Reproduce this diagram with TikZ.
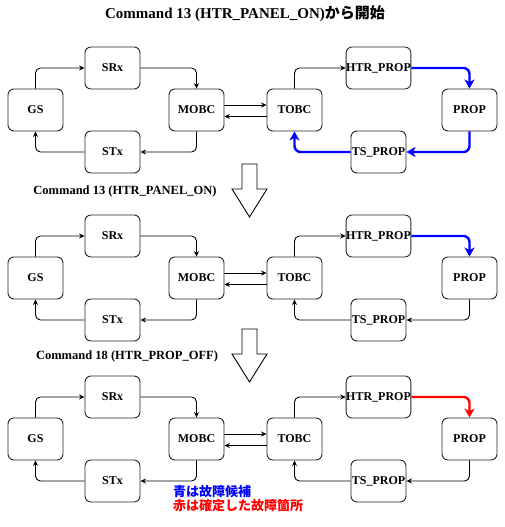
\documentclass[tikz,border=0pt]{standalone}
\usepackage{fontspec}
\setmainfont{Liberation Serif}
\newfontfamily\jpfont{Noto Sans CJK JP}
\usetikzlibrary{arrows.meta}
\tikzset{
  box/.style={draw=black!85, line width=0.9pt, rounded corners=6pt, minimum width=55pt, minimum height=42pt, inner sep=0pt, font=\fontsize{12}{14}\selectfont\bfseries},
  conn/.style={draw=black, line width=0.9pt, rounded corners=5pt, -{Stealth[length=5.5pt,width=5pt]}},
  hot/.style={line width=2.4pt, rounded corners=6pt, -{Stealth[length=9pt,width=10pt,inset=2.5pt]}},
  bluepath/.style={conn, hot, draw=blue},
  redpath/.style={conn, hot, draw=red},
  cmdlabel/.style={font=\fontsize{12.5}{14}\selectfont\bfseries, inner sep=0pt},
  bigarrow/.style={draw=black, line width=0.9pt, fill=white},
}
\newcommand\flowdiag[5]{%
  \begin{scope}[yshift=-#1pt]
  \node[box] (GS#2) at (35.5,110) {GS};
  \node[box] (SRx#2) at (112.5,68) {SRx};
  \node[box] (MOBC#2) at (196.5,110) {MOBC};
  \node[box] (STx#2) at (112.5,152) {STx};
  \node[box] (TOBC#2) at (294.5,110) {TOBC};
  \node[box, minimum width=63pt] (HTR#2) at (378.5,68) {HTR\_PROP};
  \node[box] (PROP#2) at (469.5,110) {PROP};
  \node[box] (TS#2) at (378.5,152) {TS\_PROP};
  \draw[conn] (GS#2.north) |- (SRx#2.west);
  \draw[conn] (SRx#2.east) -| (MOBC#2.north);
  \draw[conn] (MOBC#2.south) |- (STx#2.east);
  \draw[conn] (STx#2.west) -| (GS#2.south);
  \draw[conn] ([yshift=5pt]MOBC#2.east) -- ([yshift=5pt]TOBC#2.west);
  \draw[conn] ([yshift=-6.5pt]TOBC#2.west) -- ([yshift=-6.5pt]MOBC#2.east);
  \draw[conn] (TOBC#2.north) |- (HTR#2.west);
  \draw[#3] (HTR#2.east) -| (PROP#2.north);
  \draw[#4] (PROP#2.south) |- (TS#2.east);
  \draw[#5] (TS#2.west) -| (TOBC#2.south);
  \end{scope}}
\begin{document}
\begin{tikzpicture}[x=1pt,y=-1pt]
\useasboundingbox (0,0) rectangle (505,527);
\node[font=\fontsize{15}{17}\selectfont\bfseries, inner sep=0pt] (title) at (245,14) {Command 13 (HTR\_PANEL\_ON){\jpfont から開始}};
\flowdiag{0}{a}{bluepath}{bluepath}{bluepath}
\flowdiag{168}{b}{bluepath}{conn}{conn}
\flowdiag{329}{c}{redpath}{conn}{conn}
\node[cmdlabel] (cmd1) at (125,191) {Command 13 (HTR\_PANEL\_ON)};
\node[cmdlabel] (cmd2) at (127,356) {Command 18 (HTR\_PROP\_OFF)};
\draw[bigarrow] (242,164) -- (257,164) -- (257,189) -- (267,189) -- (249.5,217) -- (232,189) -- (242,189) -- cycle;
\draw[bigarrow] (242,329) -- (257,329) -- (257,354) -- (267,354) -- (249.5,382) -- (232,354) -- (242,354) -- cycle;
\node[anchor=west, inner sep=0pt, text=blue, font=\jpfont\fontsize{13}{15}\selectfont\bfseries] (leg1) at (173,492) {青は故障候補};
\node[anchor=west, inner sep=0pt, text=red, font=\jpfont\fontsize{13}{15}\selectfont\bfseries] (leg2) at (173,506) {赤は確定した故障箇所};
\end{tikzpicture}
\end{document}
